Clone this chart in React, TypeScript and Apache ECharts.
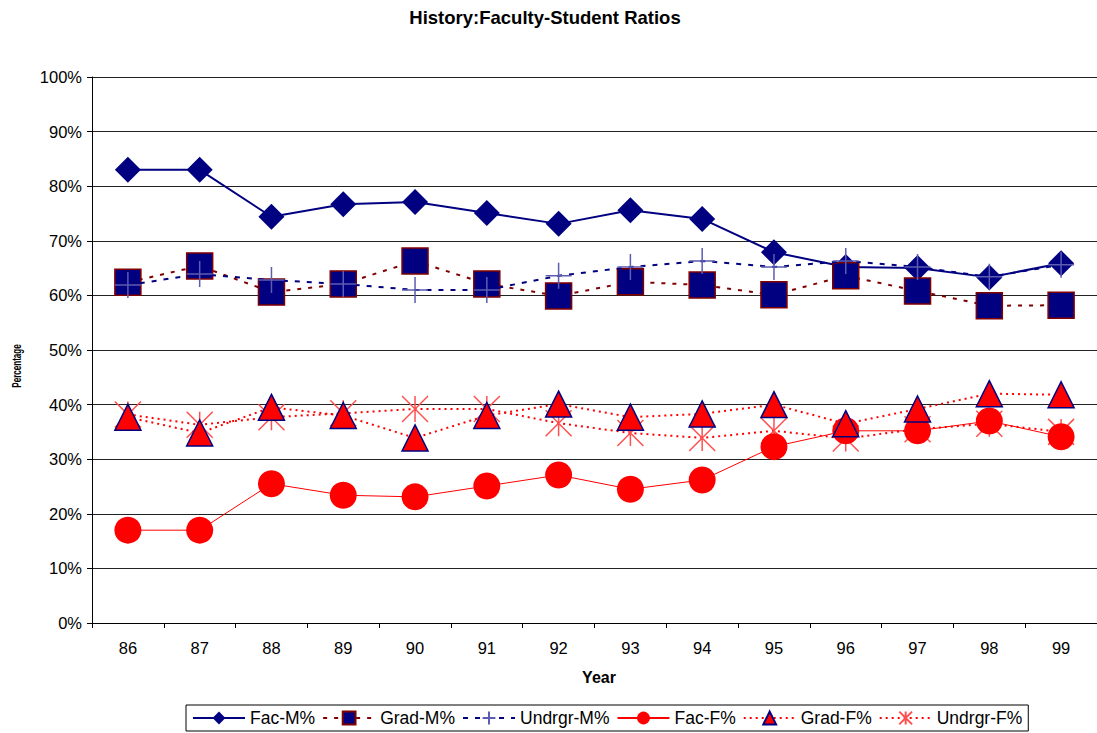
import React, { useEffect, useRef } from "react";
import * as echarts from "echarts";

const categories = ["86", "87", "88", "89", "90", "91", "92", "93", "94", "95", "96", "97", "98", "99"];
const facM = [83.0, 83.0, 74.4, 76.7, 77.1, 75.1, 73.1, 75.6, 74.0, 67.9, 65.2, 65.0, 63.3, 65.9];
const gradM = [62.4, 65.4, 60.6, 62.1, 66.3, 62.1, 59.9, 62.5, 61.9, 60.1, 63.6, 60.8, 58.1, 58.2];
const undrgrM = [61.9, 63.9, 62.8, 62.1, 61.0, 61.0, 63.6, 65.2, 66.3, 65.2, 66.3, 65.2, 63.4, 65.6];
const facF = [17.0, 17.0, 25.5, 23.4, 23.1, 25.1, 27.1, 24.5, 26.2, 32.3, 35.2, 35.2, 37.0, 34.1];
const gradF = [37.7, 34.8, 39.5, 38.0, 33.9, 38.0, 40.1, 37.7, 38.3, 40.0, 36.5, 39.2, 42.0, 41.8];
const undrgrF = [38.2, 36.3, 37.7, 38.4, 39.2, 39.2, 36.6, 34.8, 33.9, 35.2, 33.8, 35.5, 36.5, 35.0];

const NAVY = "#000080";
const MAROON = "#800000";
const RED = "#ff0000";
const FONT = "'Liberation Sans', Arial, sans-serif";

const PLUS = "path://M10,0 L10,20 M0,10 L20,10";
const STAR = "path://M0,0 L20,20 M0,20 L20,0 M10,0 L10,20";

export default function App() {
  const ref = useRef<HTMLDivElement>(null);
  useEffect(() => {
    if (!ref.current) return;
    const chart = echarts.init(ref.current, undefined, { renderer: "svg" });
    chart.setOption({
      animation: false,
      backgroundColor: "#ffffff",
      textStyle: { fontFamily: FONT },
      graphic: [
        {
          type: "text",
          x: 545,
          y: 17,
          style: {
            text: "History:Faculty-Student Ratios",
            font: `bold 18.5px ${FONT}`,
            fill: "#000",
            align: "center",
            verticalAlign: "middle",
          },
        },
        {
          type: "text",
          x: 599,
          y: 677,
          style: {
            text: "Year",
            font: `bold 16px ${FONT}`,
            fill: "#000",
            align: "center",
            verticalAlign: "middle",
          },
        },
        {
          type: "text",
          x: 16,
          y: 366,
          rotation: Math.PI / 2,
          scaleX: 0.62,
          style: {
            text: "Percentage",
            font: `bold 13px ${FONT}`,
            fill: "#000",
            align: "center",
            verticalAlign: "middle",
          },
        },
      ],
      grid: { left: 92, top: 77, width: 1011, height: 546, containLabel: false },
      legend: {
        left: 186,
        top: 705,
        orient: "horizontal",
        borderColor: "#000",
        borderWidth: 1,
        padding: [4, 6, 4, 6],
        itemWidth: 52,
        itemHeight: 16,
        itemGap: 7,
        textStyle: { fontSize: 17.5, color: "#000", fontFamily: FONT },
        data: ["Fac-M%", "Grad-M%", "Undrgr-M%", "Fac-F%", "Grad-F%", "Undrgr-F%"],
      },
      xAxis: {
        type: "category",
        data: categories,
        boundaryGap: true,
        axisLine: { lineStyle: { color: "#000", width: 1 } },
        axisTick: { show: true, interval: 0, length: 5, inside: false, lineStyle: { color: "#000" } },
        axisLabel: { fontSize: 16.5, color: "#000", margin: 16, fontFamily: FONT },
        splitLine: { show: false },
      },
      yAxis: {
        type: "value",
        min: 0,
        max: 100,
        interval: 10,
        axisLine: { show: true, lineStyle: { color: "#000", width: 1 } },
        axisTick: { show: true, length: 5, inside: false, lineStyle: { color: "#000" } },
        axisLabel: { fontSize: 16.5, color: "#000", margin: 10, formatter: "{value}%", fontFamily: FONT },
        splitLine: { show: true, lineStyle: { color: "#222", width: 1 } },
      },
      series: [
        {
          name: "Fac-M%",
          type: "line",
          data: facM,
          z: 2,
          symbol: "diamond",
          symbolSize: 26,
          showAllSymbol: true,
          itemStyle: { color: NAVY },
          lineStyle: { color: NAVY, width: 2, type: "solid" },
        },
        {
          name: "Grad-M%",
          type: "line",
          data: gradM,
          z: 3,
          symbol: "rect",
          symbolSize: 26,
          showAllSymbol: true,
          itemStyle: { color: NAVY, borderColor: MAROON, borderWidth: 1.5 },
          lineStyle: { color: MAROON, width: 2, type: [4, 7] },
        },
        {
          name: "Undrgr-M%",
          type: "line",
          data: undrgrM,
          z: 4,
          symbol: PLUS,
          symbolSize: 26,
          showAllSymbol: true,
          itemStyle: { color: "rgba(0,0,0,0)", borderColor: "#5c5cb0", borderWidth: 1.5 },
          lineStyle: { color: NAVY, width: 2, type: [5, 7] },
        },
        {
          name: "Fac-F%",
          type: "line",
          data: facF,
          z: 3,
          symbol: "circle",
          symbolSize: 27,
          showAllSymbol: true,
          itemStyle: { color: RED },
          lineStyle: { color: RED, width: 1, type: "solid" },
        },
        {
          name: "Grad-F%",
          type: "line",
          data: gradF,
          z: 4,
          symbol: "triangle",
          symbolSize: 26,
          showAllSymbol: true,
          itemStyle: { color: RED, borderColor: NAVY, borderWidth: 1.5 },
          lineStyle: { color: RED, width: 2, type: [2, 4] },
        },
        {
          name: "Undrgr-F%",
          type: "line",
          data: undrgrF,
          z: 2,
          symbol: STAR,
          symbolSize: 26,
          showAllSymbol: true,
          itemStyle: { color: "rgba(0,0,0,0)", borderColor: "#ff5050", borderWidth: 1.5 },
          lineStyle: { color: RED, width: 2, type: [2, 4] },
        },
      ],
    });
    return () => chart.dispose();
  }, []);
  return (
    <div
      ref={ref}
      style={{ position: "fixed", left: 0, top: 0, width: 1097, height: 733, background: "#fff" }}
    />
  );
}
